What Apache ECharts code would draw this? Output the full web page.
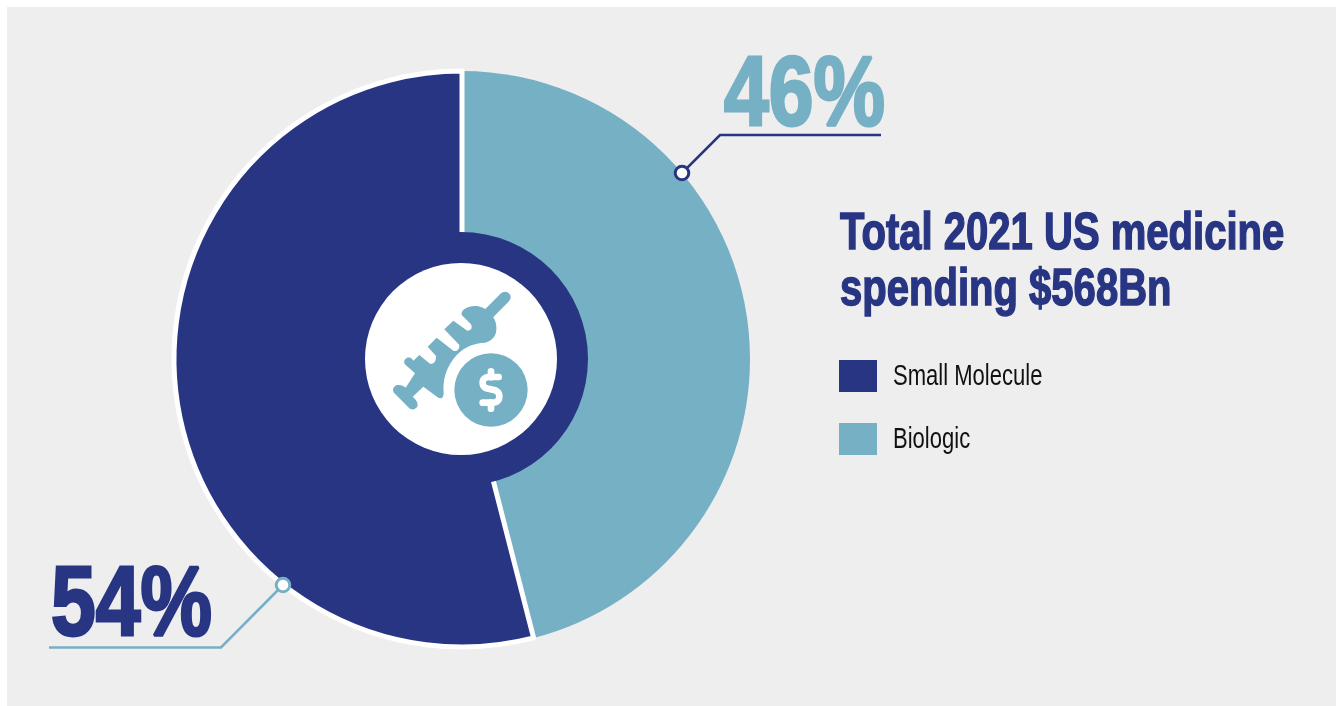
<!DOCTYPE html>
<html>
<head>
<meta charset="utf-8">
<title>Total 2021 US medicine spending</title>
<style>html,body{margin:0;padding:0;background:#fff}#c{width:1336px;height:706px}</style>
<script src="https://cdn.jsdelivr.net/npm/echarts@6/dist/echarts.min.js"></script>
</head>
<body>
<div id="c"></div>
<script>
// Share of US medicine spending by modality, in percent.
const categories = ['Biologic', 'Small Molecule'];
const shares = [46, 54];
const legendOrder = ['Small Molecule', 'Biologic'];
const titleLines = ['Total 2021 US medicine', 'spending $568Bn'];

const NAVY = '#283583';
const TEAL = '#76B0C5';
const PANEL = '#EEEEEE';
const SANS = '"Liberation Sans", Arial, sans-serif';

const cx = 462, cy = 359;

// Horizontally condensed text: the installed sans has no narrow cut.
function narrowText(text, x, top, size, squeeze, color, bold, thicken) {
  return {
    type: 'text', z: 30, x, y: top, scaleX: squeeze, silent: true,
    style: {
      text, x: 0, y: 0, fill: color,
      font: (bold ? 'bold ' : '') + size + 'px ' + SANS,
      textAlign: 'left', textVerticalAlign: 'top',
      stroke: thicken ? color : null, lineWidth: thicken || 0
    }
  };
}

function leader(points, dot, color) {
  return [
    { type: 'polyline', z: 20, shape: { points }, style: { fill: null, stroke: color, lineWidth: 2.5 } },
    { type: 'circle', z: 21, shape: { cx: dot[0], cy: dot[1], r: 6.8 }, style: { fill: '#fff', stroke: color, lineWidth: 3 } }
  ];
}

// Flattens an M/L/Q outline into the point list a polygon element takes.
function flatten(d) {
  const nums = d.match(/[MLQ]|-?[\d.]+/g);
  const pts = [];
  let i = 0, cmd = 'M', px = 0, py = 0;
  while (i < nums.length) {
    if (/[MLQ]/.test(nums[i])) cmd = nums[i++];
    if (cmd === 'Q') {
      const qx = +nums[i++], qy = +nums[i++], ex = +nums[i++], ey = +nums[i++];
      for (let t = 1; t <= 8; t++) {
        const u = t / 8, v = 1 - u;
        pts.push([v * v * px + 2 * v * u * qx + u * u * ex, v * v * py + 2 * v * u * qy + u * u * ey]);
      }
      px = ex; py = ey;
    } else {
      px = +nums[i++]; py = +nums[i++];
      pts.push([px, py]);
    }
  }
  return pts;
}

// Syringe outline, drawn at 3x and scaled down by its group.
const syringeBody = 'M375 237 Q345 218 312 238 Q303 246 305 255 L333 283 Q340 300 322 302 L280 272 L253 298 ' +
  'L298 345 Q298 365 281 363 L230 323 L203 350 L228 378 Q228 403 210 401 L178 375 L160 392 Q150 376 137 386 Q128 396 137 405 ' +
  'L165 430 L137 473 Q122 462 108 466 Q94 476 102 488 L148 535 Q160 544 172 530 Q176 515 158 500 L190 470 L235 503 Q250 510 251 490 ' +
  'Q245 425 290 375 Q325 340 375 338 Q412 328 409 290 Q408 275 400 262';
const dollarS = 'M416 441 L385 441 Q368 443 368 458 Q368 474 385 476 L402 480 Q418 484 418 499 Q418 516 400 518 L368 518';

const icon = {
  type: 'group', x: 360, y: 230, scaleX: 1 / 3, scaleY: 1 / 3,
  children: [
    { type: 'polygon', z: 12, shape: { points: flatten(syringeBody) }, style: { fill: TEAL } },
    { type: 'line', z: 12, shape: { x1: 385, y1: 252, x2: 435, y2: 202 }, style: { stroke: TEAL, lineWidth: 34, lineCap: 'round' } },
    { type: 'circle', z: 12, shape: { cx: 393, cy: 480, r: 110 }, style: { fill: TEAL } },
    { type: 'polyline', z: 13, shape: { points: flatten(dollarS) }, style: { fill: null, stroke: '#fff', lineWidth: 20, lineCap: 'round', lineJoin: 'round' } },
    { type: 'line', z: 13, shape: { x1: 393, y1: 424, x2: 393, y2: 442 }, style: { stroke: '#fff', lineWidth: 20, lineCap: 'round' } },
    { type: 'line', z: 13, shape: { x1: 393, y1: 518, x2: 393, y2: 536 }, style: { stroke: '#fff', lineWidth: 20, lineCap: 'round' } }
  ]
};

const colorOf = name => (name === 'Small Molecule' ? NAVY : TEAL);
const shareOf = name => shares[categories.indexOf(name)];

const legendItems = legendOrder.flatMap((name, i) => {
  const y = 360 + i * 63;
  return [
    { type: 'rect', z: 20, shape: { x: 839, y, width: 38, height: 32 }, style: { fill: colorOf(name) } },
    narrowText(name, 893, y + 2, 29, 0.76, '#111', false, 0)
  ];
});

const chart = echarts.init(document.getElementById('c'), null, { renderer: 'canvas' });
chart.setOption({
  animation: false,
  backgroundColor: '#fff',
  graphic: [
    { type: 'rect', z: -1, shape: { x: 7, y: 7, width: 1329, height: 699 }, style: { fill: PANEL } },
    { type: 'circle', z: 10, shape: { cx: 461, cy: 359, r: 127 }, style: { fill: NAVY } },
    { type: 'circle', z: 11, shape: { cx: 461, cy: 359, r: 96 }, style: { fill: '#fff' } },
    icon,
    ...leader([[682, 173], [720, 135], [881, 135]], [682, 173], NAVY),
    ...leader([[283, 585], [221, 647.5], [49, 647.5]], [283, 585], TEAL),
    narrowText(titleLines[0], 840, 209, 52, 0.77, NAVY, true, 1.5),
    narrowText(titleLines[1], 840, 265, 52, 0.77, NAVY, true, 1.5),
    narrowText(shareOf('Biologic') + '%', 724, 49, 98, 0.82, TEAL, true, 3),
    narrowText(shareOf('Small Molecule') + '%', 51, 559, 98, 0.82, NAVY, true, 3),
    ...legendItems
  ],
  series: [{
    type: 'pie',
    center: [cx, cy],
    radius: [0, 288],
    startAngle: 90,
    clockwise: true,
    silent: true,
    label: { show: false },
    labelLine: { show: false },
    data: categories.map((name, i) => ({
      name,
      value: shares[i],
      itemStyle: name === 'Small Molecule'
        ? { color: NAVY, borderColor: '#fff', borderWidth: 5 }
        : { color: TEAL }
    }))
  }]
});
</script>
</body>
</html>
